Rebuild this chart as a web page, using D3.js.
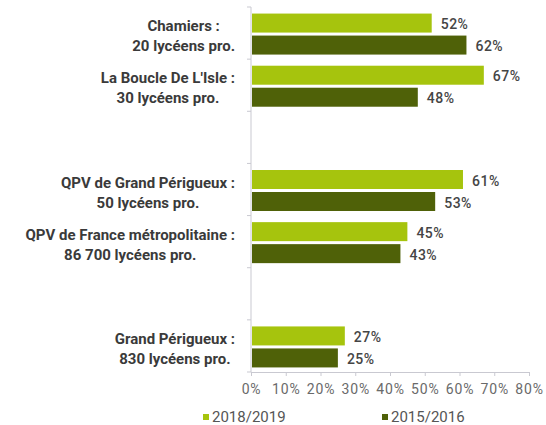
<!DOCTYPE html>
<html>
<head>
<meta charset="utf-8">
<script src="https://cdn.jsdelivr.net/npm/d3@7"></script>
<style>
    body { margin: 0; background: #fff; }
    svg { display: block; font-family: Roboto, "Open Sans", sans-serif; }
</style>
</head>
<body>
<div id="chart"></div>
<script>
// Data (blank entries are the empty rows between groups)
const categories = ['chamiers', 'boucle', 'blank1', 'qpvGrand', 'qpvFrance', 'blank2', 'grand'];
const labelLines = [
    ['Chamiers :', '20 lycéens pro.'],
    ["La Boucle De L'Isle :", '30 lycéens pro.'],
    [],
    ['QPV de Grand Périgueux :', '50 lycéens pro.'],
    ['QPV de France métropolitaine :', '86 700 lycéens pro.'],
    [],
    ['Grand Périgueux :', '830 lycéens pro.']
];
const values2018 = [0.52, 0.67, null, 0.61, 0.45, null, 0.27];
const values2015 = [0.62, 0.48, null, 0.53, 0.43, null, 0.25];
const seriesNames = ['2018/2019', '2015/2016'];
const xTicks = [0, 0.1, 0.2, 0.3, 0.4, 0.5, 0.6, 0.7, 0.8];

// Configuration
const config = {
    width: 546,
    height: 425,
    plot: { left: 251, right: 529, top: 7, bottom: 372 },
    colors: ['#a6c40d', '#4f6108'],
    axisColor: '#c9c9d1',
    barHeight: 19,
    barGap: 3
};

const svg = d3.select('#chart')
    .append('svg')
    .attr('width', config.width)
    .attr('height', config.height);

// Scales
const xScale = d3.scaleLinear()
    .domain([0, 0.8])
    .range([config.plot.left, config.plot.right]);

const yScale = d3.scaleBand()
    .domain(categories)
    .range([config.plot.top, config.plot.bottom]);

// X axis
const xAxis = svg.append('g')
    .attr('transform', `translate(0,${config.plot.bottom})`)
    .call(d3.axisBottom(xScale)
        .tickValues(xTicks)
        .tickFormat(d3.format('.0%'))
        .tickSize(4)
        .tickSizeOuter(0)
        .tickPadding(8));
xAxis.select('.domain').attr('stroke', config.axisColor);
xAxis.selectAll('.tick line').attr('stroke', config.axisColor);
xAxis.selectAll('.tick text')
    .attr('fill', '#6a6a6a')
    .attr('font-size', 14)
    .attr('letter-spacing', 0.8)
    .attr('font-family', 'Roboto, sans-serif');

// Y axis line with ticks at band boundaries
const boundaries = categories.map(c => yScale(c)).concat([config.plot.bottom]);
svg.append('line')
    .attr('x1', config.plot.left)
    .attr('x2', config.plot.left)
    .attr('y1', config.plot.top)
    .attr('y2', config.plot.bottom)
    .attr('stroke', config.axisColor);
svg.append('g')
    .selectAll('line')
    .data(boundaries)
    .enter()
    .append('line')
    .attr('x1', config.plot.left - 4)
    .attr('x2', config.plot.left)
    .attr('y1', d => d)
    .attr('y2', d => d)
    .attr('stroke', config.axisColor);

// Bars
const series = [values2018, values2015];
series.forEach((vals, s) => {
    const rows = categories.map((c, i) => ({ cat: c, value: vals[i] })).filter(d => d.value !== null);
    const offset = (yScale.bandwidth() - (2 * config.barHeight + config.barGap)) / 2 + 1
        + s * (config.barHeight + config.barGap);

    svg.append('g')
        .selectAll('rect')
        .data(rows)
        .enter()
        .append('rect')
        .attr('x', xScale(0) + 1)
        .attr('y', d => yScale(d.cat) + offset)
        .attr('width', d => xScale(d.value) - xScale(0) - 1)
        .attr('height', config.barHeight)
        .attr('fill', config.colors[s]);

    svg.append('g')
        .selectAll('text')
        .data(rows)
        .enter()
        .append('text')
        .attr('x', d => xScale(d.value) + 9)
        .attr('y', d => yScale(d.cat) + offset + config.barHeight / 2 + 6)
        .attr('fill', '#454545')
        .attr('font-size', 14)
        .attr('font-weight', 500)
        .attr('letter-spacing', 0.5)
        .text(d => d3.format('.0%')(d.value));
});

// Category labels: each block right-aligned, lines centred within the block
const labelRight = 235;
categories.forEach((c, i) => {
    const lines = labelLines[i];
    if (!lines.length) return;
    const cy = yScale(c) + yScale.bandwidth() / 2;
    const g = svg.append('g');
    const texts = g.selectAll('text')
        .data(lines)
        .enter()
        .append('text')
        .attr('y', (d, j) => cy - 2 + j * 20)
        .attr('fill', '#3a3a3a')
        .attr('font-size', 15)
        .attr('font-weight', 700)
        .attr('text-anchor', 'middle')
        .text(d => d);
    const maxW = d3.max(texts.nodes(), n => n.getComputedTextLength());
    texts.attr('x', labelRight - maxW / 2);
});

// Legend
const legendPos = [203, 382];
seriesNames.forEach((name, s) => {
    const g = svg.append('g').attr('transform', `translate(${legendPos[s]},414)`);
    g.append('rect')
        .attr('width', 6)
        .attr('height', 6)
        .attr('fill', config.colors[s]);
    g.append('text')
        .attr('x', 9)
        .attr('y', 8)
        .attr('fill', '#555')
        .attr('font-size', 15)
        .text(name);
});
</script>
</body>
</html>
